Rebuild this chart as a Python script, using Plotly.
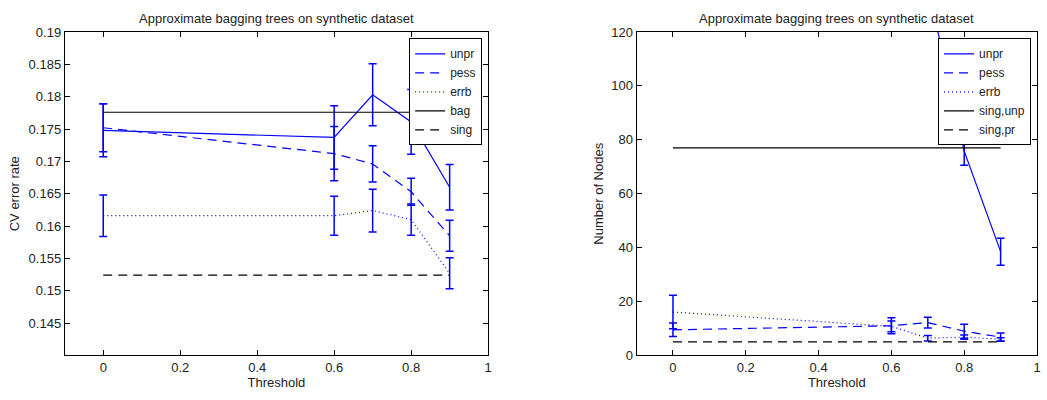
import plotly.graph_objects as go

thresholds = [0, 0.6, 0.7, 0.8, 0.9]

# Left: CV error rate
err_unpr = [0.1748, 0.1737, 0.1803, 0.1761, 0.1660]
err_unpr_sd = [0.0041, 0.0049, 0.0048, 0.0050, 0.0035]
err_pess = [0.1752, 0.1712, 0.1696, 0.1653, 0.1585]
err_pess_sd = [0.0037, 0.0042, 0.0028, 0.0021, 0.0024]
err_errb = [0.1616, 0.1616, 0.1624, 0.1610, 0.1527]
err_errb_sd = [0.0032, 0.0030, 0.0033, 0.0024, 0.0024]
err_bag = [0.1776, 0.1776]
err_sing = [0.1524, 0.1524]

# Right: number of nodes
nodes_unpr = [160, 150, 137, 75.8, 38.5]
nodes_unpr_sd = [5.0, 5.0, 5.0, 5.2, 5.0]
nodes_pess = [9.5, 11.0, 12.2, 9.0, 6.8]
nodes_pess_sd = [2.5, 3.0, 2.0, 2.6, 1.5]
nodes_errb = [16.1, 10.8, 6.4, 6.8, 6.0]
nodes_errb_sd = [6.2, 2.0, 1.0, 0.8, 0.6]
nodes_sing_unp = [77, 77]
nodes_sing_pr = [5, 5]
ref_x = [0, 0.9]

left_names = ["unpr", "pess", "errb", "bag", "sing"]
right_names = ["unpr", "pess", "errb", "sing,unp", "sing,pr"]

x_ticks = [0, 0.2, 0.4, 0.6, 0.8, 1]
x_ticktext = ["0", "0.2", "0.4", "0.6", "0.8", "1"]
left_yticks = [0.145, 0.15, 0.155, 0.16, 0.165, 0.17, 0.175, 0.18, 0.185, 0.19]
left_yticktext = ["0.145", "0.15", "0.155", "0.16", "0.165", "0.17", "0.175", "0.18", "0.185", "0.19"]
right_yticks = [0, 20, 40, 60, 80, 100, 120]

title_text = "Approximate bagging trees on synthetic dataset"

BLUE = "#0000ff"
FONT = "Liberation Sans, Arial, Helvetica, sans-serif"
DASH = "9px,6px"
DOT = "1px,3px"

fig = go.Figure()

def eb(sd):
    return dict(type="data", array=sd, visible=True, color=BLUE, thickness=1.5, width=4)

def add_series(xa, ya, leg, series):
    styles = ["solid", DASH, DOT]
    for (name, y, sd), dash in zip(series[:3], styles):
        fig.add_trace(go.Scatter(x=thresholds, y=y, mode="lines", name=name,
                                 line=dict(color=BLUE, width=1.2, dash=dash),
                                 error_y=eb(sd), xaxis=xa, yaxis=ya, legend=leg))
    for (name, y), dash in zip(series[3:], ["solid", DASH]):
        fig.add_trace(go.Scatter(x=ref_x, y=y, mode="lines", name=name,
                                 line=dict(color="black", width=1.2, dash=dash),
                                 xaxis=xa, yaxis=ya, legend=leg))

add_series("x", "y", "legend", [
    (left_names[0], err_unpr, err_unpr_sd),
    (left_names[1], err_pess, err_pess_sd),
    (left_names[2], err_errb, err_errb_sd),
    (left_names[3], err_bag),
    (left_names[4], err_sing),
])
add_series("x2", "y2", "legend2", [
    (right_names[0], nodes_unpr, nodes_unpr_sd),
    (right_names[1], nodes_pess, nodes_pess_sd),
    (right_names[2], nodes_errb, nodes_errb_sd),
    (right_names[3], nodes_sing_unp),
    (right_names[4], nodes_sing_pr),
])

axis_common = dict(showline=True, linecolor="black", linewidth=1, mirror="allticks",
                   ticks="inside", ticklen=5, tickcolor="black", showgrid=False, zeroline=False,
                   tickfont=dict(family=FONT, size=13, color="#222"))

W, H = 1047, 400
ytop, ybot = 26, 362
ydom = [1 - ybot / H, 1 - ytop / H]

legend_common = dict(y=1 - 32.5 / H, yanchor="top", xanchor="right",
                     bordercolor="black", borderwidth=1, bgcolor="white",
                     font=dict(family=FONT, size=12, color="#222"), itemwidth=30, tracegroupgap=0)

fig.update_layout(
    width=W, height=H, margin=dict(l=0, r=0, t=0, b=0),
    plot_bgcolor="white", paper_bgcolor="white",
    font=dict(family=FONT, size=12, color="#222"),
    xaxis=dict(domain=[65 / W, 490 / W], range=[-0.1, 1], tickvals=x_ticks, ticktext=x_ticktext,
               title=dict(text="Threshold", font=dict(size=13), standoff=2), anchor="y", **axis_common),
    yaxis=dict(domain=ydom, range=[0.14, 0.19], tickvals=left_yticks, ticktext=left_yticktext,
               title=dict(text="CV error rate", font=dict(size=13), standoff=6), anchor="x", **axis_common),
    xaxis2=dict(domain=[639 / W, 1041 / W], range=[-0.1, 1], tickvals=x_ticks, ticktext=x_ticktext,
                title=dict(text="Threshold", font=dict(size=13), standoff=2), anchor="y2", **axis_common),
    yaxis2=dict(domain=ydom, range=[0, 120], tickvals=right_yticks,
                title=dict(text="Number of Nodes", font=dict(size=13), standoff=4), anchor="x2", **axis_common),
    legend=dict(x=484 / W, **legend_common),
    legend2=dict(x=1035 / W, **legend_common),
    showlegend=True,
    annotations=[
        dict(text=title_text, x=(65 + 490) / 2 / W, y=1 - 12 / H, xref="paper", yref="paper",
             xanchor="center", yanchor="middle", showarrow=False,
             font=dict(family=FONT, size=13, color="#222")),
        dict(text=title_text, x=(639 + 1041) / 2 / W, y=1 - 12 / H, xref="paper", yref="paper",
             xanchor="center", yanchor="middle", showarrow=False,
             font=dict(family=FONT, size=13, color="#222")),
    ],
)

fig.write_html("out.html")
